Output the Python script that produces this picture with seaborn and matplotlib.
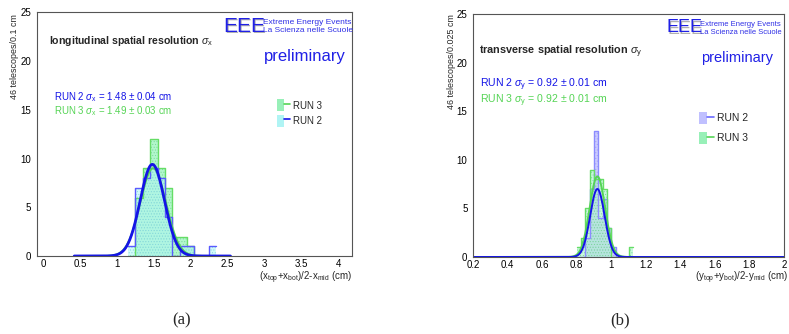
import numpy as np
import pandas as pd
import matplotlib
matplotlib.use("Agg")
import matplotlib.pyplot as plt
import seaborn as sns
from matplotlib.patches import Patch
from matplotlib.lines import Line2D
from matplotlib.legend_handler import HandlerTuple
from matplotlib.ticker import MultipleLocator

# ---- data ----
# (a) longitudinal resolution, bins of 0.1 cm
x_edges = [1.15, 1.25, 1.35, 1.45, 1.55, 1.65, 1.75, 1.85, 1.95, 2.05, 2.15, 2.25, 2.35]
x_run2 = [1, 7, 8, 9, 8, 4, 0, 1, 1, 0, 0, 1]
x_run3 = [0, 6, 9, 12, 9, 7, 2, 2, 1, 0, 0, 0]
# gaussian fits (amplitude, mean, sigma)
x_fit_run2 = (9.4, 1.48, 0.165)
x_fit_run3 = (9.0, 1.49, 0.175)
x_fit_range = (0.42, 2.54)

# (b) transverse resolution, bins of 0.025 cm
y_edges = [0.8, 0.825, 0.85, 0.875, 0.9, 0.925, 0.95, 0.975, 1.0, 1.025, 1.05, 1.075, 1.1, 1.125]
y_run2 = [0, 0, 2, 7, 13, 4, 6, 3, 1, 0, 0, 0, 0]
y_run3 = [1, 2, 5, 9, 8, 8, 7, 3, 0, 0, 0, 0, 1]
y_fit_run2 = (7.0, 0.92, 0.042)
y_fit_run3 = (8.3, 0.92, 0.045)
y_fit_range = (0.2, 2.0)

W, H = 789, 334
sns.set_style("white")
plt.rcParams["font.family"] = ["Liberation Sans", "DejaVu Sans"]
plt.rcParams["mathtext.fontset"] = "custom"
plt.rcParams["mathtext.rm"] = "Liberation Sans"
plt.rcParams["mathtext.it"] = "Liberation Sans:italic"
plt.rcParams["mathtext.bf"] = "Liberation Sans:bold"
plt.rcParams["hatch.linewidth"] = 0.4

BLUE = "#1414e6"
GREEN = "#55d455"

fig = plt.figure(figsize=(W / 100, H / 100), dpi=100)


def px_axes(l, t, r, b):
    return fig.add_axes([l / W, 1 - b / H, (r - l) / W, (b - t) / H])


def ftext(px, py, s, **kw):
    fig.text(px / W, 1 - py / H, s, **kw)


def hist(ax, edges, counts, face, edge, hatch_col, alpha):
    centers = [(a + b) / 2 for a, b in zip(edges[:-1], edges[1:])]
    df = pd.DataFrame({"x": centers, "w": counts})
    n0 = len(ax.collections)
    sns.histplot(data=df, x="x", weights="w", bins=list(edges), element="step", fill=True,
                 color=face, alpha=alpha, linewidth=0, ax=ax)
    for c in ax.collections[n0:]:
        c.set_hatch("......")
        c.set_edgecolor(hatch_col)
        c.set_linewidth(0)
    sns.histplot(data=df, x="x", weights="w", bins=list(edges), element="step", fill=False,
                 color=edge, linewidth=1.0, ax=ax)


def fit(ax, pars, rng, color, lw):
    a, m, s = pars
    xs = np.linspace(rng[0], rng[1], 400)
    df = pd.DataFrame({"x": xs, "y": a * np.exp(-0.5 * ((xs - m) / s) ** 2)})
    sns.lineplot(data=df, x="x", y="y", color=color, linewidth=lw, ax=ax)


def style(ax, xlim, xmaj, xmin_):
    ax.set_xlim(*xlim)
    ax.set_ylim(0, 25)
    ax.xaxis.set_major_locator(MultipleLocator(xmaj))
    ax.xaxis.set_minor_locator(MultipleLocator(xmin_))
    ax.yaxis.set_major_locator(MultipleLocator(5))
    ax.yaxis.set_minor_locator(MultipleLocator(1))
    ax.tick_params(which="both", direction="in", top=False, right=False,
                   colors="#333333", labelcolor="black", labelsize=7, width=0.6)
    ax.tick_params(which="major", length=5, pad=2.5)
    ax.tick_params(axis="y", which="major", pad=4)
    ax.tick_params(which="minor", length=2.5)
    for sp in ax.spines.values():
        sp.set_color("#555555")
        sp.set_linewidth(0.8)
    ax.set_xlabel("")
    ax.set_ylabel("")
    ax.xaxis.set_major_formatter(plt.FuncFormatter(lambda v, p: f"{v:g}"))


# ---------- panel (a) ----------
axa = px_axes(36.7, 12.3, 352, 256)
hist(axa, x_edges, x_run3, "#9ff5c0", "#66dd66", "#7ad99a", 0.8)
hist(axa, x_edges, x_run2, "#aef5f5", "#5a5aff", "#88d8e0", 0.55)
fit(axa, x_fit_run3, x_fit_range, GREEN, 1.4)
fit(axa, x_fit_run2, x_fit_range, BLUE, 2.0)
style(axa, (-0.09, 4.19), 0.5, 0.1)

# ---------- panel (b) ----------
axb = px_axes(473, 14, 784, 257)
hist(axb, y_edges, y_run2, "#c8c8ff", "#8c8cff", "#a0a0e8", 0.9)
hist(axb, y_edges, y_run3, "#a8f5c8", "#66dd66", "#7ad99a", 0.6)
fit(axb, y_fit_run3, y_fit_range, GREEN, 1.4)
fit(axb, y_fit_run2, y_fit_range, BLUE, 1.4)
style(axb, (0.2, 2.0), 0.2, 0.05)

# axis titles
ftext(15, 57, "46 telescopes/0.1 cm", rotation=90, ha="center", va="center", fontsize=6.4)
ftext(452, 62, "46 telescopes/0.025 cm", rotation=90, ha="center", va="center", fontsize=6.4)
ftext(352, 278, r"(x$_{\rm top}$+x$_{\rm bot}$)/2-x$_{\rm mid}$ (cm)", ha="right", va="center",
      fontsize=7)
ftext(788, 278, r"(y$_{\rm top}$+y$_{\rm bot}$)/2-y$_{\rm mid}$ (cm)", ha="right", va="center",
      fontsize=7)

# titles / labels inside panels
ftext(49, 41, r"longitudinal spatial resolution $\sigma_{\rm x}$", fontsize=7.6,
      fontweight="bold", va="center")
ftext(479, 52, r"transverse spatial resolution $\sigma_{\rm y}$", fontsize=7.8,
      fontweight="bold", va="center")

for (x0, y0, x1, fs, fs2) in [(223, 26, 263, 15, 6.0), (666, 28, 700, 13, 5.5)]:
    ftext(x0 + 1.5, y0 + 1.5, "EEE", fontsize=fs, color="#b0b0b0", va="center")
    ftext(x0, y0, "EEE", fontsize=fs, color="#2020e6", va="center")
    ftext(x1, y0 - 4, "Extreme Energy Events", fontsize=fs2, color="#3030e6", va="center")
    ftext(x1, y0 + 5, "La Scienza nelle Scuole", fontsize=fs2, color="#3030e6", va="center")

ftext(264, 56, "preliminary", fontsize=12, color="#2020e6", va="center")
ftext(701, 58, "preliminary", fontsize=10.5, color="#2020e6", va="center")

ftext(54, 97, r"RUN 2 $\sigma_{\rm x}$ = 1.48 $\pm$ 0.04 cm", fontsize=7, color=BLUE, va="center")
ftext(54, 111, r"RUN 3 $\sigma_{\rm x}$ = 1.49 $\pm$ 0.03 cm", fontsize=7, color=GREEN, va="center")
ftext(480, 85, r"RUN 2 $\sigma_{\rm y}$ = 0.92 $\pm$ 0.01 cm", fontsize=7.6, color=BLUE, va="center")
ftext(480, 101, r"RUN 3 $\sigma_{\rm y}$ = 0.92 $\pm$ 0.01 cm", fontsize=7.6, color=GREEN, va="center")

# legends
tup = {tuple: HandlerTuple(ndivide=None, pad=0)}
ha = [(Patch(facecolor="#98f0b8", edgecolor="none", hatch="....."), Line2D([0], [0], color=GREEN, lw=1.2)),
      (Patch(facecolor="#b0f4f4", edgecolor="none", hatch="....."), Line2D([0], [0], color=BLUE, lw=1.2))]
axa.legend(ha, ["RUN 3", "RUN 2"], handler_map=tup,
           loc="center left", bbox_to_anchor=((268 - 36.7) / 315.3, 1 - (113 - 12.3) / 243.7),
           frameon=False, fontsize=7, handlelength=1.4, handleheight=1.5, labelspacing=0.35,
           handletextpad=0.25)
hb = [(Patch(facecolor="#c0c0ff", edgecolor="none", hatch="....."), Line2D([0], [0], color="#6a6aff", lw=1.2)),
      (Patch(facecolor="#98f0b8", edgecolor="none", hatch="....."), Line2D([0], [0], color=GREEN, lw=1.2))]
axb.legend(hb, ["RUN 2", "RUN 3"], handler_map=tup,
           loc="center left", bbox_to_anchor=((690 - 473) / 311, 1 - (128 - 14) / 243),
           frameon=False, fontsize=7.5, handlelength=1.4, handleheight=1.5, labelspacing=0.7,
           handletextpad=0.25)

# sub-figure captions
ftext(182, 320, "(a)", fontsize=12, family="Liberation Serif", ha="center", va="center")
ftext(620, 320, "(b)", fontsize=12, family="Liberation Serif", ha="center", va="center")

fig.savefig("out.png", dpi=100)
